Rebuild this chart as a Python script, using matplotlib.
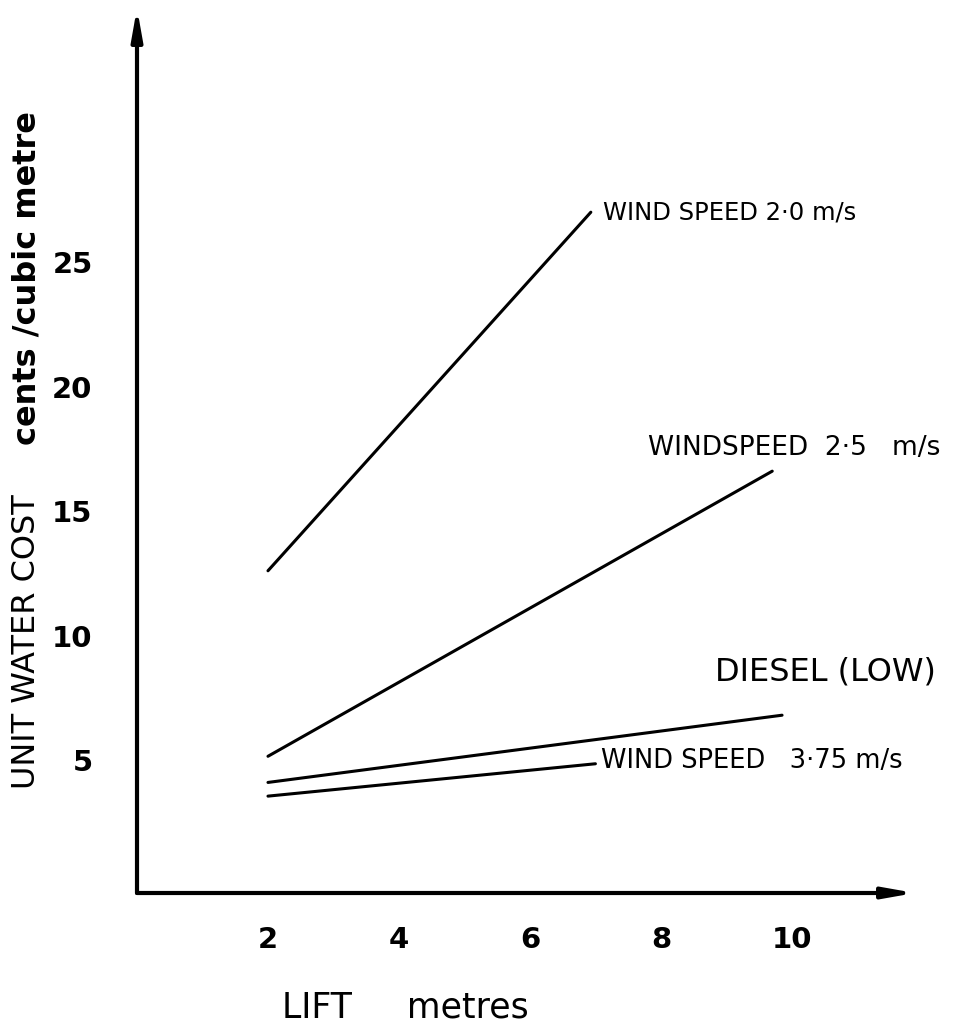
import matplotlib
matplotlib.use("Agg")
import matplotlib.pyplot as plt

# ---- data ----
x_ticks = [2, 4, 6, 8, 10]
y_ticks = [5, 10, 15, 20, 25]

wind20_x = [2.0, 6.93]
wind20_y = [12.6, 27.0]
wind25_x = [2.0, 9.7]
wind25_y = [5.15, 16.6]
diesel_x = [2.0, 9.85]
diesel_y = [4.1, 6.8]
wind375_x = [2.0, 7.0]
wind375_y = [3.55, 4.85]

labels = ["WIND SPEED 2·0 m/s", "WINDSPEED  2·5   m/s", "DIESEL (LOW)", "WIND SPEED   3·75 m/s"]

W, H = 954, 1036
fig = plt.figure(figsize=(W / 100, H / 100), dpi=100)
x0, x1 = 137, 915
y0, y1 = 893, 8
ax = fig.add_axes([x0 / W, 1 - y0 / H, (x1 - x0) / W, (y0 - y1) / H])

xlim = (0, 11.88)
ylim = (-0.34, 35.2)
ax.set_xlim(*xlim)
ax.set_ylim(*ylim)
for s in ax.spines.values():
    s.set_visible(False)

lw = 2.2
for xs, ys in [(wind20_x, wind20_y), (wind25_x, wind25_y), (diesel_x, diesel_y), (wind375_x, wind375_y)]:
    ax.plot(xs, ys, color="black", lw=lw, solid_capstyle="round")

# axes arrows
arrow = dict(arrowstyle="-|>,head_length=1.8,head_width=0.32", color="black", lw=3.0,
             shrinkA=0, shrinkB=0)
ax.annotate("", xy=(xlim[1], ylim[0]), xytext=(xlim[0], ylim[0]), arrowprops=arrow,
            annotation_clip=False)
ax.annotate("", xy=(xlim[0], ylim[1]), xytext=(xlim[0], ylim[0]), arrowprops=arrow,
            annotation_clip=False)

ax.set_xticks(x_ticks)
ax.set_xticklabels([str(v) for v in x_ticks], fontsize=21, fontweight="bold")
ax.set_yticks(y_ticks)
ax.set_yticklabels([str(v) for v in y_ticks], fontsize=21, fontweight="bold")
ax.tick_params(axis="x", length=0, pad=24)
ax.tick_params(axis="y", length=0, pad=32)

ax.text(wind20_x[1] + 0.18, wind20_y[1], labels[0], fontsize=17.5, va="center", ha="left")
ax.text(wind25_x[1] - 1.9, wind25_y[1] + 0.95, labels[1], fontsize=19, va="center", ha="left")
ax.text(diesel_x[1] - 1.03, diesel_y[1] + 1.75, labels[2], fontsize=23, va="center", ha="left")
ax.text(wind375_x[1] + 0.08, wind375_y[1] + 0.1, labels[3], fontsize=18.5, va="center", ha="left")

fig.text(27 / W, 1 - 642 / H, "UNIT WATER COST", rotation=90, fontsize=23,
         va="center", ha="center")
fig.text(27 / W, 1 - 278 / H, "cents /cubic metre", rotation=90, fontsize=23,
         fontweight="bold", va="center", ha="center")
fig.text(405 / W, 1 - 1008 / H, "LIFT     metres", fontsize=25, va="center", ha="center")

fig.savefig("out.png", dpi=100, facecolor="white")
